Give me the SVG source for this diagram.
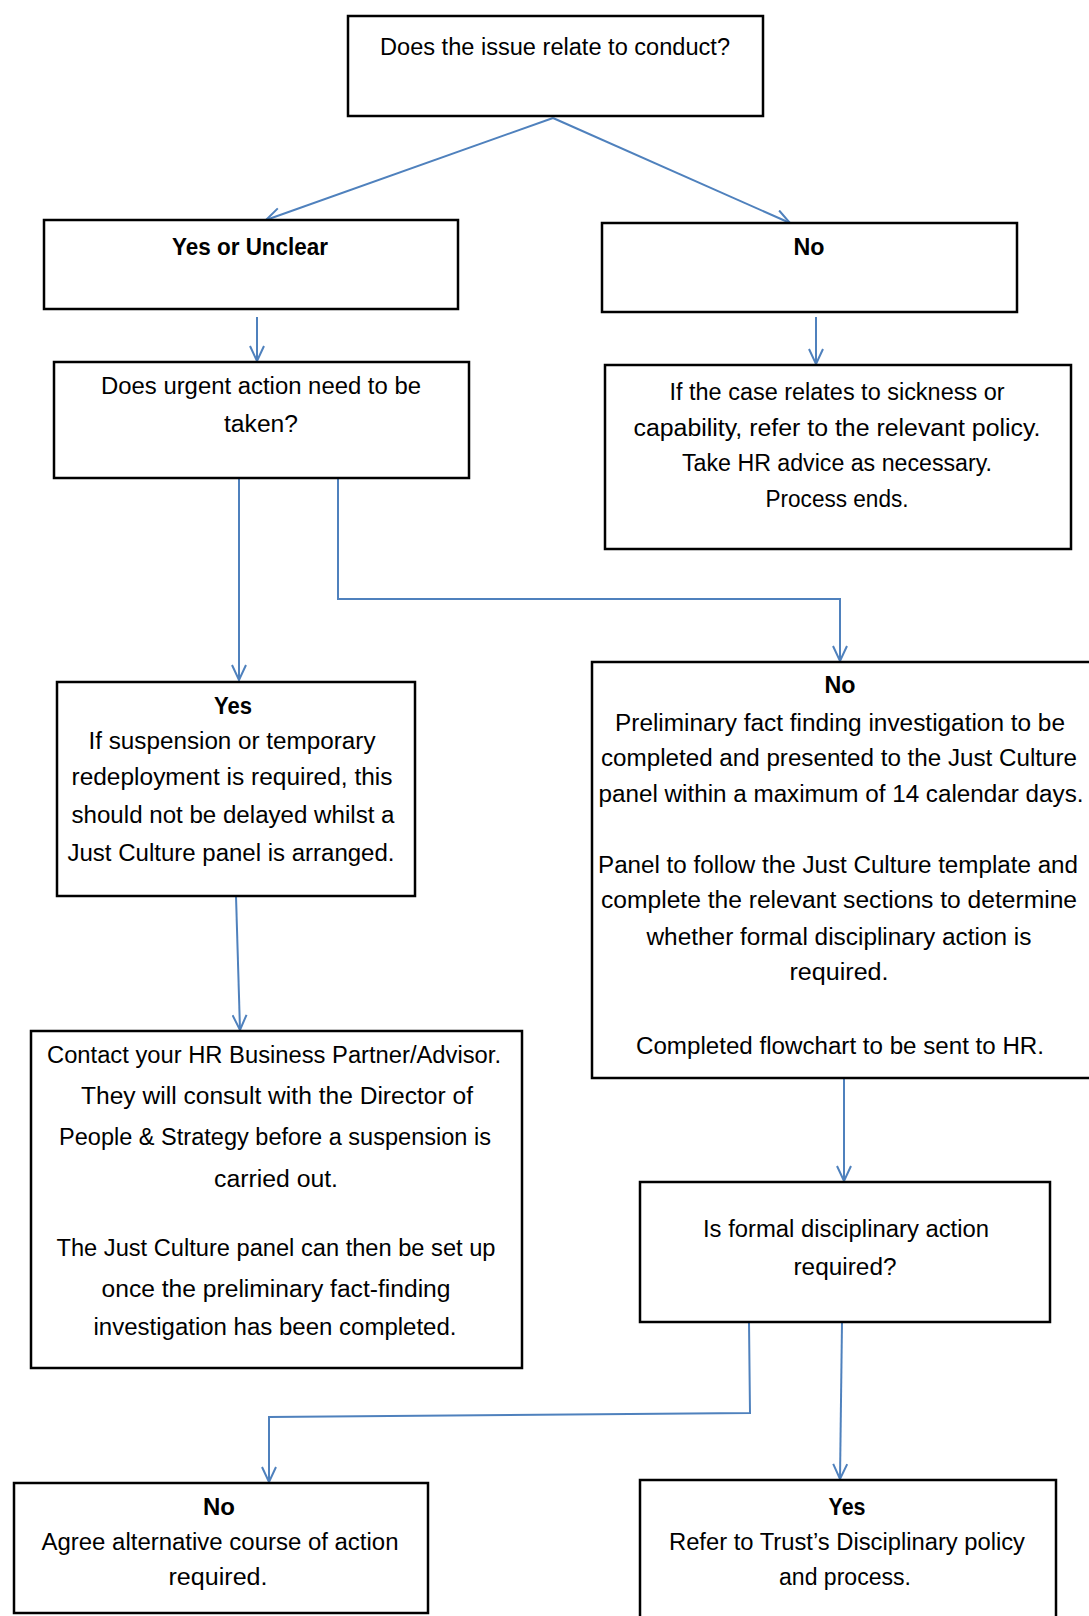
<svg xmlns="http://www.w3.org/2000/svg" width="1089" height="1616" viewBox="0 0 1089 1616">
<style>
.box{fill:#fff;stroke:#000;stroke-width:2.5}
.t{font-family:"Liberation Sans Narrow","Liberation Sans",Arial,sans-serif;font-size:23px;fill:#000;text-anchor:middle}
.b{font-weight:bold}
.c{fill:none;stroke:#4f81bd;stroke-width:2;marker-end:url(#ah)}
</style>
<defs>
<marker id="ah" markerUnits="userSpaceOnUse" markerWidth="18" markerHeight="16" refX="16" refY="8" orient="auto">
<path d="M1,1 L16,8 L1,15" fill="none" stroke="#4f81bd" stroke-width="2"/>
</marker>
</defs>
<rect width="1089" height="1616" fill="#fff"/>
<g id="connectors">
<path class="c" d="M553,118 L266,220"/>
<path class="c" d="M553,118 L790,223"/>
<path class="c" d="M257,317 L257,361"/>
<path class="c" d="M816,317 L816,364"/>
<path class="c" d="M239,475 L239,680"/>
<path class="c" d="M338,475 L338,599 L840,599 L840,661"/>
<path class="c" d="M236,896 L240,1030"/>
<path class="c" d="M844,1078 L844,1181"/>
<path class="c" d="M749,1322 L750,1413 L269,1417 L269,1482"/>
<path class="c" d="M842,1322 L840,1479"/>
</g>
<g id="n1"><rect class="box" x="348" y="16" width="415" height="100"/>
<text class="t" x="555" y="55" textLength="350" lengthAdjust="spacingAndGlyphs">Does the issue relate to conduct?</text></g>
<g id="n2"><rect class="box" x="44" y="220" width="414" height="89"/>
<text class="t b" x="250" y="255" textLength="156" lengthAdjust="spacingAndGlyphs">Yes or Unclear</text></g>
<g id="n3"><rect class="box" x="602" y="223" width="415" height="89"/>
<text class="t b" x="809" y="255" textLength="31" lengthAdjust="spacingAndGlyphs">No</text></g>
<g id="n4"><rect class="box" x="54" y="362" width="415" height="116"/>
<text class="t" x="261" y="394" textLength="320" lengthAdjust="spacingAndGlyphs">Does urgent action  need to be</text>
<text class="t" x="261" y="432" textLength="74" lengthAdjust="spacingAndGlyphs">taken?</text></g>
<g id="n5"><rect class="box" x="605" y="365" width="466" height="184"/>
<text class="t" x="837" y="400" textLength="335" lengthAdjust="spacingAndGlyphs">If the case relates to sickness or</text>
<text class="t" x="837" y="436" textLength="407" lengthAdjust="spacingAndGlyphs">capability,  refer to the relevant policy.</text>
<text class="t" x="837" y="471" textLength="310" lengthAdjust="spacingAndGlyphs">Take HR advice as necessary.</text>
<text class="t" x="837" y="507" textLength="143" lengthAdjust="spacingAndGlyphs">Process ends.</text></g>
<g id="n6"><rect class="box" x="57" y="682" width="358" height="214"/>
<text class="t b" x="233" y="714" textLength="38" lengthAdjust="spacingAndGlyphs">Yes</text>
<text class="t" x="232" y="749" textLength="287" lengthAdjust="spacingAndGlyphs">If suspension or temporary</text>
<text class="t" x="232" y="785" textLength="321" lengthAdjust="spacingAndGlyphs">redeployment is required, this</text>
<text class="t" x="233" y="823" textLength="323" lengthAdjust="spacingAndGlyphs">should not be delayed whilst a</text>
<text class="t" x="231" y="861" textLength="327" lengthAdjust="spacingAndGlyphs">Just Culture panel is arranged.</text></g>
<g id="n7"><rect class="box" x="592" y="662" width="500" height="416"/>
<text class="t b" x="840" y="693" textLength="31" lengthAdjust="spacingAndGlyphs">No</text>
<text class="t" x="840" y="731" textLength="450" lengthAdjust="spacingAndGlyphs">Preliminary fact finding investigation to be</text>
<text class="t" x="839" y="766" textLength="476" lengthAdjust="spacingAndGlyphs">completed  and presented to the Just Culture</text>
<text class="t" x="841" y="802" textLength="485" lengthAdjust="spacingAndGlyphs">panel within a maximum of 14 calendar days.</text>
<text class="t" x="838" y="873" textLength="480" lengthAdjust="spacingAndGlyphs">Panel to follow  the Just Culture template and</text>
<text class="t" x="839" y="908" textLength="476" lengthAdjust="spacingAndGlyphs">complete the relevant sections to determine</text>
<text class="t" x="839" y="945" textLength="385" lengthAdjust="spacingAndGlyphs">whether formal disciplinary action is</text>
<text class="t" x="839" y="980" textLength="99" lengthAdjust="spacingAndGlyphs">required.</text>
<text class="t" x="840" y="1054" textLength="408" lengthAdjust="spacingAndGlyphs">Completed  flowchart to be sent to HR.</text></g>
<g id="n8"><rect class="box" x="31" y="1031" width="491" height="337"/>
<text class="t" x="274" y="1063" textLength="454" lengthAdjust="spacingAndGlyphs">Contact  your HR Business Partner/Advisor.</text>
<text class="t" x="277" y="1104" textLength="392" lengthAdjust="spacingAndGlyphs">They will consult with  the Director of</text>
<text class="t" x="275" y="1145" textLength="432" lengthAdjust="spacingAndGlyphs">People &amp; Strategy before a suspension is</text>
<text class="t" x="276" y="1187" textLength="124" lengthAdjust="spacingAndGlyphs">carried out.</text>
<text class="t" x="276" y="1256" textLength="439" lengthAdjust="spacingAndGlyphs">The Just Culture panel can then be set up</text>
<text class="t" x="276" y="1297" textLength="349" lengthAdjust="spacingAndGlyphs">once the preliminary fact-finding</text>
<text class="t" x="275" y="1335" textLength="363" lengthAdjust="spacingAndGlyphs">investigation has been completed.</text></g>
<g id="n9"><rect class="box" x="640" y="1182" width="410" height="140"/>
<text class="t" x="846" y="1237" textLength="286" lengthAdjust="spacingAndGlyphs">Is formal disciplinary action</text>
<text class="t" x="845" y="1275" textLength="103" lengthAdjust="spacingAndGlyphs">required?</text></g>
<g id="n10"><rect class="box" x="14" y="1483" width="414" height="130"/>
<text class="t b" x="219" y="1515" textLength="32" lengthAdjust="spacingAndGlyphs">No</text>
<text class="t" x="220" y="1550" textLength="357" lengthAdjust="spacingAndGlyphs">Agree alternative course of action</text>
<text class="t" x="218" y="1585" textLength="99" lengthAdjust="spacingAndGlyphs">required.</text></g>
<g id="n11"><rect class="box" x="640" y="1480" width="416" height="150"/>
<text class="t b" x="847" y="1515" textLength="37" lengthAdjust="spacingAndGlyphs">Yes</text>
<text class="t" x="847" y="1550" textLength="356" lengthAdjust="spacingAndGlyphs">Refer to Trust’s Disciplinary policy</text>
<text class="t" x="845" y="1585" textLength="132" lengthAdjust="spacingAndGlyphs">and process.</text></g>
</svg>
